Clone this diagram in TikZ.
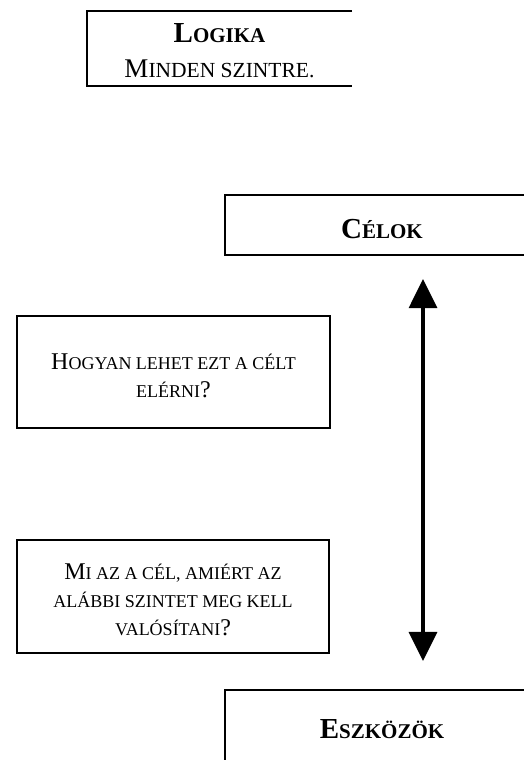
\documentclass[tikz,border=0pt]{standalone}
\usepackage{fontspec}
\setmainfont{Liberation Serif}
\usetikzlibrary{arrows.meta}
\def\scsz{18}
\newcommand\smc[2][\scsz]{{\fontsize{#1}{#1}\selectfont #2}}
\newcommand\topstrut[1]{\rule{0pt}{#1}}
\begin{document}
\begin{tikzpicture}[x=1pt,y=-1pt,
  frame/.style={draw, line width=2.2pt},
  titlefont/.style={font=\def\scsz{21}\fontsize{29}{35}\selectfont\bfseries},
  bodyfont/.style={font=\def\scsz{18}\fontsize{24}{28}\selectfont},
  qbox/.style={frame, bodyfont, align=center, inner sep=0pt},
  arr/.style={line width=3.2pt, {Triangle[width=28pt,length=29pt]}-{Triangle[width=28pt,length=29pt]}}]
\clip (0,0) rectangle (524,760);
\fill[white] (0,0) rectangle (524,760);
% Logika box (open on the right)
\node[minimum width=265pt, minimum height=75pt, inner sep=0pt, align=center,
      font=\fontsize{27}{35}\selectfont] (logika) at (219.5,48.5)
  {\topstrut{23pt}{\fontsize{29}{35}\selectfont\bfseries L\smc[21]{OGIKA}}\\M\smc[21.5]{INDEN SZINTRE.}};
\draw[line width=2.2pt] (logika.north east) -- (logika.north west) -- (logika.south west) -- (logika.south east);
% Goals / means
\node[frame, titlefont, minimum width=314pt, minimum height=60pt, inner sep=0pt, text height=27pt, text depth=0pt] (celok) at (382,225) {C\smc{ÉLOK}};
\node[frame, titlefont, minimum width=314pt, minimum height=77pt, inner sep=0pt, text height=19.5pt, text depth=0pt] (eszk) at (382,728.5) {E\smc{SZKÖZÖK}};
% question boxes
\node[qbox, minimum width=313pt, minimum height=112pt] (q1) at (173.5,372)
  {\topstrut{23pt}H\smc{OGYAN LEHET EZT A CÉLT}\\\smc{ELÉRNI}?};
\node[qbox, minimum width=312pt, minimum height=113pt] (q2) at (173,596.5)
  {\topstrut{23pt}M\smc{I AZ A CÉL, AMIÉRT AZ}\\\smc{ALÁBBI SZINTET MEG KELL}\\\smc{VALÓSÍTANI}?};
% double arrow
\draw[arr, shorten <=23pt, shorten >=28pt] ([xshift=41pt]celok.south) -- ([xshift=41pt]eszk.north);
\end{tikzpicture}
\end{document}
